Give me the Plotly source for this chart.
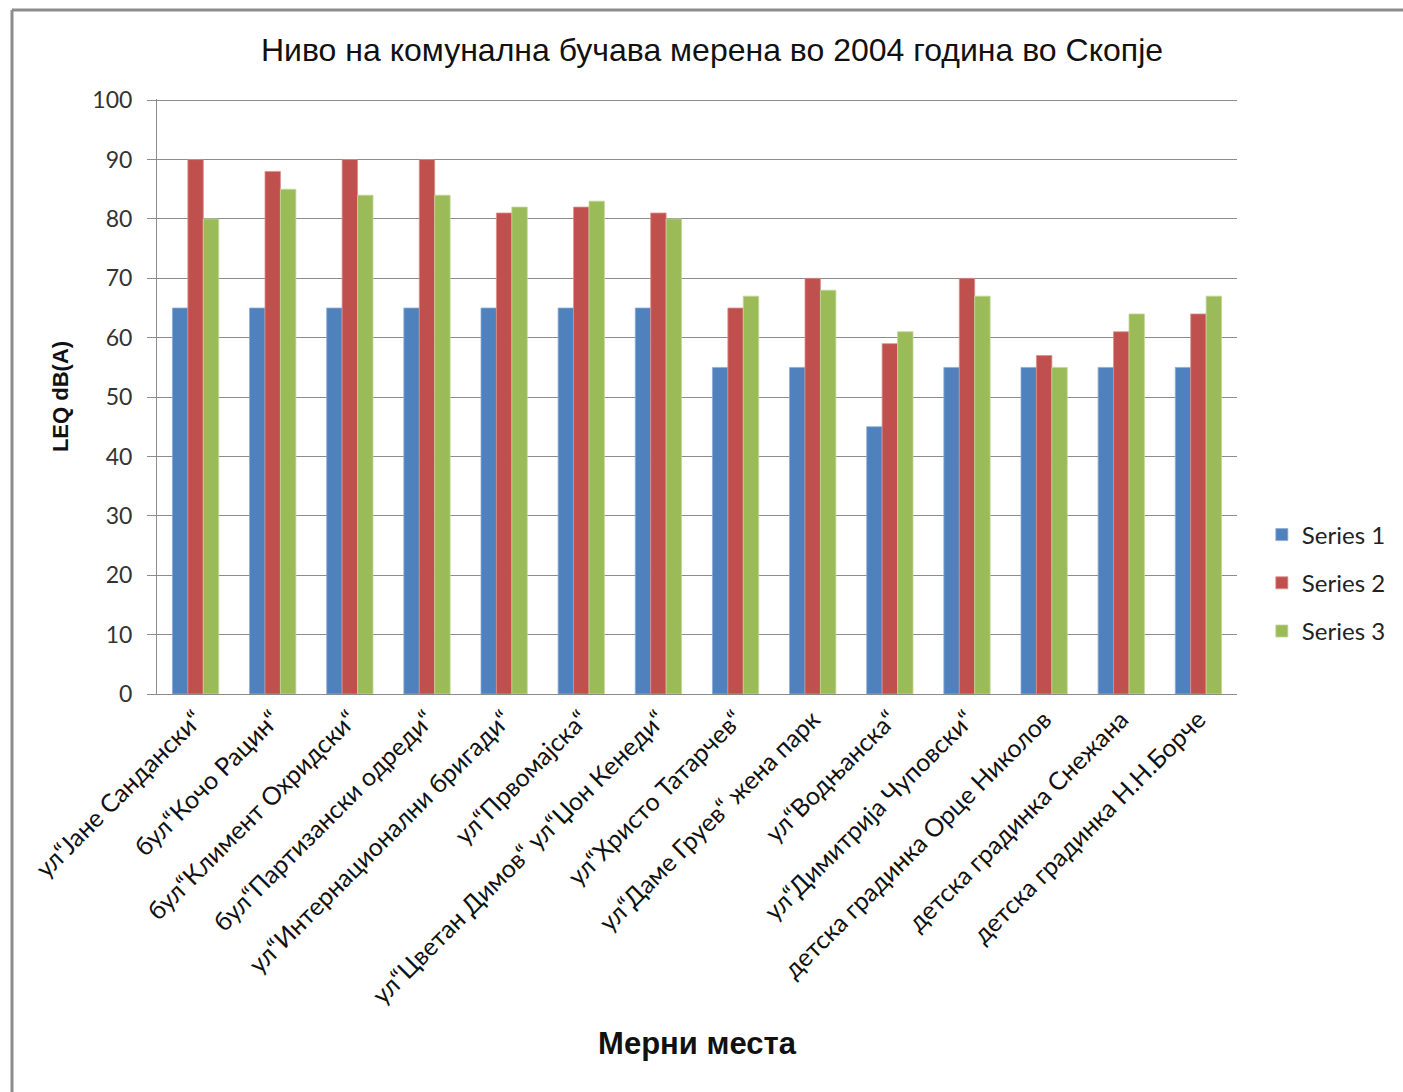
import plotly.graph_objects as go

# Measurement locations in Skopje
locations = [
    "ул“Јане Сандански“",
    "бул“Кочо Рацин“",
    "бул“Климент Охридски“",
    "бул“Партизански одреди“",
    "ул“Интернационални бригади“",
    "ул“Првомајска“",
    "ул“Цветан Димов“ ул“Џон Кенеди“",
    "ул“Христо Татарчев“",
    "ул“Даме Груев“ жена парк",
    "ул“Водњанска“",
    "ул“Димитрија Чуповски“",
    "детска градинка Орце Николов",
    "детска градинка Снежана",
    "детска градинка Н.Н.Борче",
]

series_names = ["Series 1", "Series 2", "Series 3"]
series_1 = [65, 65, 65, 65, 65, 65, 65, 55, 55, 45, 55, 55, 55, 55]
series_2 = [90, 88, 90, 90, 81, 82, 81, 65, 70, 59, 70, 57, 61, 64]
series_3 = [80, 85, 84, 84, 82, 83, 80, 67, 68, 61, 67, 55, 64, 67]

y_ticks = [0, 10, 20, 30, 40, 50, 60, 70, 80, 90, 100]

colors = ["#4F81BD", "#C0504D", "#9BBB59"]
outlines = ["#8EAAD6", "#DA8E8C", "#C3D69B"]

fig = go.Figure()
for i, (name, vals) in enumerate(zip(series_names, [series_1, series_2, series_3])):
    fig.add_trace(go.Bar(
        x=locations, y=vals, name=name,
        marker=dict(color=colors[i], line=dict(color=outlines[i], width=0.8)),
        legendgroup=name,
    ))

fig.update_layout(
    width=1403, height=1092,
    margin=dict(l=157, r=166, t=99, b=398, autoexpand=False),
    paper_bgcolor="white", plot_bgcolor="white",
    barmode="group", bargap=0.4, bargroupgap=0,
    font=dict(family="Lato, Open Sans, sans-serif", color="#222222"),
    title=dict(
        text="Ниво на комунална бучава мерена во 2004 година во Скопје",
        font=dict(family="Liberation Sans, Arial, sans-serif", size=32, color="#111111"),
        x=712 / 1403, xanchor="center", xref="container",
        y=1 - 50 / 1092, yanchor="middle", yref="container",
    ),
    legend=dict(
        x=1.023, xanchor="left", y=(694 - 583) / 595, yanchor="middle",
        font=dict(size=24, color="#222222"),
        traceorder="grouped", tracegroupgap=14,
        itemwidth=30, bgcolor="rgba(0,0,0,0)",
    ),
    showlegend=True,
)

fig.update_xaxes(
    tickangle=-45, tickfont=dict(size=25, color="#111111"),
    showline=True, linecolor="#8C8C8C", linewidth=1,
    ticks="", automargin=False,
    title=dict(text="<b>Мерни места</b>",
               font=dict(family="Liberation Sans, Arial, sans-serif", size=31, color="#111111"),
               standoff=24),
)
fig.update_yaxes(
    range=[0, 100.2], tickvals=y_ticks,
    tickfont=dict(size=23, color="#333333"),
    showgrid=True, gridcolor="#8C8C8C", gridwidth=1,
    showline=True, linecolor="#8C8C8C", linewidth=1,
    ticks="outside", ticklen=9, tickcolor="#8C8C8C",
    ticklabelstandoff=10,
    zeroline=False, automargin=False,
    title=dict(text="<b>LEQ dB(A)</b>",
               font=dict(family="Liberation Sans, Arial, sans-serif", size=22, color="#111111"),
               standoff=17),
)

# outer chart frame (left and top edges visible)
fig.add_shape(type="line", xref="paper", yref="paper",
              x0=-145 / 1080, x1=-145 / 1080, y0=-398 / 595, y1=(694 - 10) / 595,
              line=dict(color="#8C8C8C", width=3))
fig.add_shape(type="line", xref="paper", yref="paper",
              x0=-145 / 1080, x1=(1403 - 157) / 1080, y0=(694 - 10) / 595, y1=(694 - 10) / 595,
              line=dict(color="#8C8C8C", width=3))

fig.write_html("out.html")
